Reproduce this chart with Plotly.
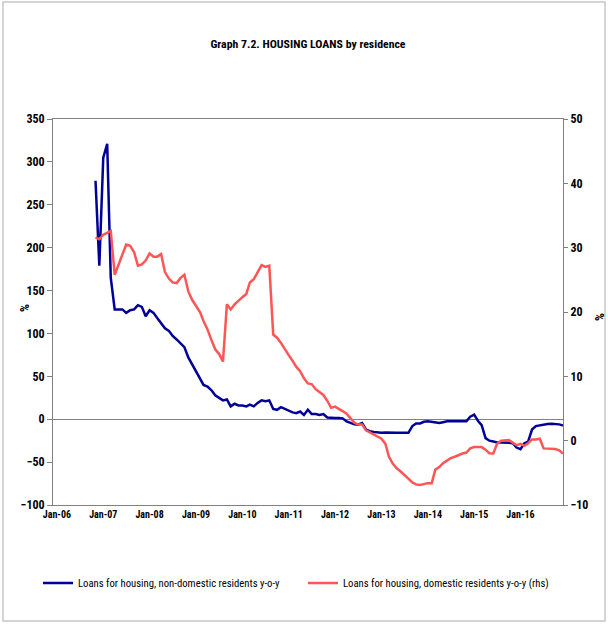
import plotly.graph_objects as go
import pandas as pd

# Monthly observations, Nov-2006 .. Dec-2016
dates = pd.date_range("2006-11-01", periods=122, freq="MS")

non_domestic = [
    278, 179, 305, 321, 165, 128, 128, 128, 124, 127,
    128, 133, 131, 120, 127, 124, 118, 112, 106, 103,
    97, 93, 88, 84, 72, 64, 54, 46, 40, 38,
    34, 28, 25, 22, 23, 15, 18, 16, 16, 15,
    17, 15, 19, 22, 21, 22, 12, 11, 14, 12,
    10, 8, 7, 9, 5, 11, 6, 6, 5, 6,
    2, 1.4, 1.4, 1.4, 1, -2.5, -4, -6, -6.4, -4.5,
    -12, -14, -15, -15.5, -15.8, -15.5, -15.8, -16, -15.8, -15.8,
    -15.8, -15.8, -8, -5, -5, -3, -2.5, -3.5, -4, -4.5,
    -3.5, -2.5, -2.5, -2.5, -2.5, -2.5, -2.5, 3, 5.3, -2,
    -7, -22, -25, -26, -27, -27, -27, -27.5, -28, -33,
    -35, -28, -26, -12, -8, -7, -6, -5.7, -5.3, -5.5,
    -6, -7.3,
]

domestic = [
    31.6, 31.3, 32.0, 32.3, 32.6, 25.8, 27.3, 28.8, 30.5, 30.3,
    29.3, 27.2, 27.4, 28.0, 29.1, 28.6, 28.6, 29.0, 26.2, 25.2,
    24.6, 24.5, 25.3, 25.8, 23.2, 21.9, 21.0, 20.0, 18.6, 17.3,
    15.7, 14.2, 13.5, 12.3, 21.2, 20.4, 21.2, 21.8, 22.3, 22.8,
    24.6, 25.1, 26.3, 27.3, 27.0, 27.2, 16.5, 16.0, 15.2, 14.2,
    13.3, 12.4, 11.5, 10.8, 9.7, 8.9, 8.8, 8.0, 7.6, 7.1,
    6.2, 5.1, 5.3, 5.0, 4.6, 4.2, 3.5, 2.8, 2.5, 2.5,
    1.6, 1.3, 1.0, 0.6, 0.3, -0.5, -2.5, -3.6, -4.3, -4.8,
    -5.3, -5.9, -6.5, -6.8, -6.9, -6.7, -6.6, -6.6, -4.5, -4.1,
    -3.5, -3.1, -2.7, -2.5, -2.2, -2.0, -1.85, -1.2, -1.0, -1.0,
    -1.0, -1.4, -1.95, -2.0, -0.5, 0.0, 0.1, 0.1, -0.3, -0.7,
    -0.5, -0.8, -0.4, 0.2, 0.2, 0.3, -1.2, -1.2, -1.2, -1.3,
    -1.5, -2.0,
]

title_text = "Graph 7.2. HOUSING LOANS by residence"
name_blue = "Loans for housing, non-domestic residents y-o-y"
name_red = "Loans for housing, domestic residents y-o-y (rhs)"

FONT = "Liberation Sans Narrow, Arial Narrow, Roboto Condensed, Liberation Sans, sans-serif"

fig = go.Figure()
fig.add_trace(go.Scatter(x=dates, y=non_domestic, mode="lines", name=name_blue,
                         line=dict(color="#000099", width=2.5), yaxis="y"))
fig.add_trace(go.Scatter(x=dates, y=domestic, mode="lines", name=name_red,
                         line=dict(color="#FF5555", width=2.5), yaxis="y2"))

W, H = 608, 625
L, R, T, B = 53, 563, 119, 505

def px_x(p):
    return (p - L) / (R - L)

def px_y(p):
    return (B - p) / (B - T)

fig.update_layout(
    width=W, height=H,
    margin=dict(l=L, r=W - R, t=T, b=H - B),
    paper_bgcolor="white", plot_bgcolor="white",
    font=dict(family=FONT, size=10, color="black"),
    title=dict(text="<b>" + title_text + "</b>", x=308 / W, xanchor="center",
               y=1 - 44 / H, yanchor="middle", font=dict(family=FONT, size=11.8)),
    showlegend=True,
    legend=dict(orientation="h", x=px_x(38), y=px_y(583), xanchor="left", yanchor="middle",
                font=dict(family=FONT, size=10.7), entrywidth=220, entrywidthmode="pixels",
                bgcolor="rgba(0,0,0,0)"),
    xaxis=dict(type="date", range=["2005-12-01", "2016-12-01"],
               tick0="2006-01-01", dtick="M12", tickformat="%b-%y",
               showgrid=False, zeroline=False, showline=True, linecolor="#808080",
               linewidth=1, mirror=True, ticks="", tickfont=dict(family=FONT, size=10)),
    yaxis=dict(range=[-100, 350], dtick=50, showgrid=False, zeroline=True,
               zerolinecolor="#808080", zerolinewidth=1, showline=True,
               linecolor="#808080", linewidth=1, ticks="outside", ticklen=5,
               tickcolor="#808080", tickfont=dict(family=FONT, size=12)),
    yaxis2=dict(range=[-10, 50], dtick=10, overlaying="y", side="right",
                showgrid=False, zeroline=False, showline=True, linecolor="#808080",
                linewidth=1, ticks="outside", ticklen=4, tickcolor="#808080",
                tickfont=dict(family=FONT, size=12)),
)

fig.add_annotation(text="<b>%</b>", xref="paper", yref="paper", x=px_x(24), y=px_y(308),
                   xanchor="center", yanchor="middle",
                   showarrow=False, textangle=-90, font=dict(family=FONT, size=12.5))
fig.add_annotation(text="<b>%</b>", xref="paper", yref="paper", x=px_x(599), y=px_y(317),
                   xanchor="center", yanchor="middle",
                   showarrow=False, textangle=-90, font=dict(family=FONT, size=12.5))

fig.add_shape(type="rect", xref="paper", yref="paper",
              x0=px_x(3), x1=px_x(605), y0=px_y(621), y1=px_y(2),
              line=dict(color="#C8C8C8", width=1.5), layer="below")

fig.update_xaxes(tickprefix="<b>", ticksuffix="</b>")
fig.update_yaxes(tickprefix="<b>", ticksuffix="</b>")
fig.update_layout(yaxis2=dict(tickprefix="<b>", ticksuffix="</b>"))

fig.write_html("out.html", config={"displayModeBar": False},
               post_script="document.body.style.margin='0';")
